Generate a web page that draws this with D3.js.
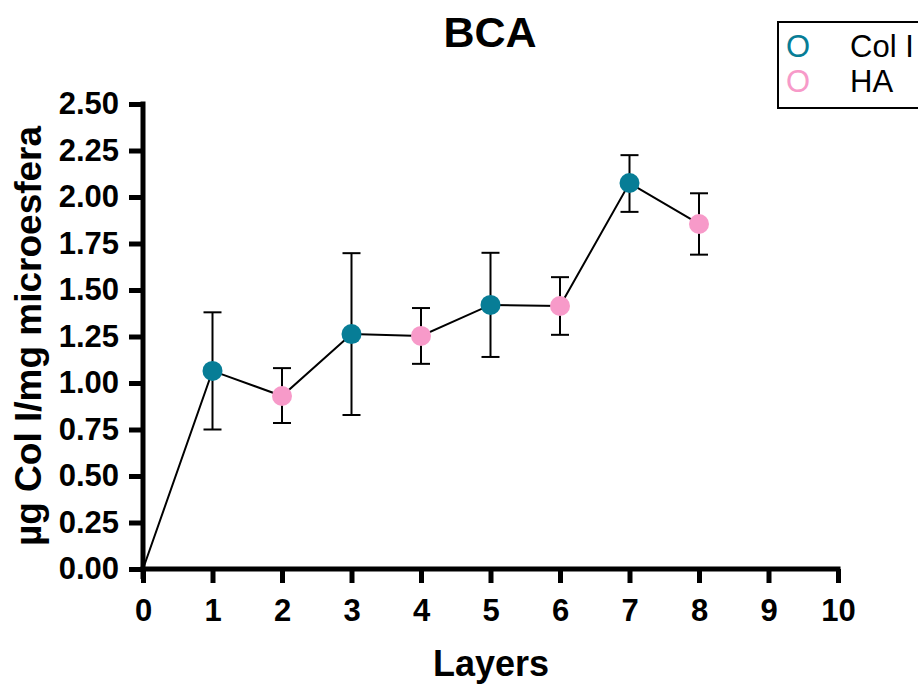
<!DOCTYPE html>
<html>
<head>
<meta charset="utf-8">
<script src="https://cdn.jsdelivr.net/npm/d3@7"></script>
<style>
  body { margin: 0; background: #fff; }
  text { font-family: "Liberation Sans", Arial, sans-serif; }
</style>
</head>
<body>
<div id="chart"></div>
<script>
// data
var layers = [1, 2, 3, 4, 5, 6, 7, 8];
var means  = [1.065, 0.93, 1.263, 1.253, 1.42, 1.414, 2.075, 1.855];
var errUp  = [0.315, 0.15, 0.435, 0.15, 0.28, 0.155, 0.15, 0.165];
var errLo  = [0.315, 0.145, 0.435, 0.15, 0.28, 0.155, 0.155, 0.165];
var groups = ["Col I", "HA", "Col I", "HA", "Col I", "HA", "Col I", "HA"];
var xTicks = [0, 1, 2, 3, 4, 5, 6, 7, 8, 9, 10];
var yTicks = [0, 0.25, 0.5, 0.75, 1.0, 1.25, 1.5, 1.75, 2.0, 2.25, 2.5];
var legendNames = ["Col I", "HA"];
var colors = {"Col I": "#077d96", "HA": "#f79ac9"};

var W = 918, H = 686;
var margin = {top: 104, right: 80, bottom: 117, left: 143},
    width = 838 - margin.left,
    height = H - margin.top - margin.bottom;

var svg = d3.select("#chart")
    .append("svg")
    .attr("width", W)
    .attr("height", H)
    .append("g")
    .attr("transform", "translate(" + margin.left + "," + margin.top + ")");

var x = d3.scaleLinear().domain([0, 10]).range([0, width]);
var y = d3.scaleLinear().domain([0, 2.5]).range([height, 0]);

// axes
var xAxis = d3.axisBottom(x).tickValues(xTicks).tickSize(14).tickPadding(16)
    .tickFormat(d3.format("d"));
var yAxis = d3.axisLeft(y).tickValues(yTicks).tickSize(14).tickPadding(10)
    .tickFormat(d3.format(".2f"));

var gx = svg.append("g")
    .attr("transform", "translate(0," + height + ")")
    .call(xAxis);
var gy = svg.append("g").call(yAxis);

[gx, gy].forEach(function(g) {
  g.select(".domain").attr("stroke", "#000").attr("stroke-width", 5);
  g.selectAll(".tick line").attr("stroke", "#000").attr("stroke-width", 5);
  g.selectAll(".tick text")
    .attr("fill", "#000")
    .style("font-size", "31px")
    .style("font-weight", "bold");
});
gx.select(".domain").attr("d", "M-2.5,0H" + (width + 2.5));
gy.select(".domain").attr("d", "M0," + (height + 10) + "V-2.5");

// line incl. origin
var pts = [{x: 0, y: 0}].concat(layers.map(function(l, i) { return {x: l, y: means[i]}; }));
svg.append("path")
    .datum(pts)
    .attr("fill", "none")
    .attr("stroke", "#000")
    .attr("stroke-width", 2)
    .attr("d", d3.line().x(function(d) { return x(d.x); }).y(function(d) { return y(d.y); }));

// error bars
var eb = svg.append("g").selectAll("g")
    .data(layers)
    .enter().append("g")
    .attr("stroke", "#000")
    .attr("stroke-width", 2);
eb.append("line")
    .attr("x1", function(d) { return x(d); })
    .attr("x2", function(d) { return x(d); })
    .attr("y1", function(d, i) { return y(means[i] + errUp[i]); })
    .attr("y2", function(d, i) { return y(means[i] - errLo[i]); });
eb.append("line")
    .attr("x1", function(d) { return x(d) - 9; })
    .attr("x2", function(d) { return x(d) + 9; })
    .attr("y1", function(d, i) { return y(means[i] + errUp[i]); })
    .attr("y2", function(d, i) { return y(means[i] + errUp[i]); });
eb.append("line")
    .attr("x1", function(d) { return x(d) - 9; })
    .attr("x2", function(d) { return x(d) + 9; })
    .attr("y1", function(d, i) { return y(means[i] - errLo[i]); })
    .attr("y2", function(d, i) { return y(means[i] - errLo[i]); });

// points
svg.append("g").selectAll("circle")
    .data(layers)
    .enter().append("circle")
    .attr("cx", function(d) { return x(d); })
    .attr("cy", function(d, i) { return y(means[i]); })
    .attr("r", 10)
    .attr("fill", function(d, i) { return colors[groups[i]]; });

// title and axis labels
svg.append("text")
    .attr("x", 490 - margin.left)
    .attr("y", 47 - margin.top)
    .attr("text-anchor", "middle")
    .style("font-size", "43px")
    .style("font-weight", "bold")
    .text("BCA");

svg.append("text")
    .attr("x", 491 - margin.left)
    .attr("y", 676 - margin.top)
    .attr("text-anchor", "middle")
    .style("font-size", "36px")
    .style("font-weight", "bold")
    .text("Layers");

svg.append("text")
    .attr("transform", "translate(" + (41 - margin.left) + "," + (336 - margin.top) + ") rotate(-90)")
    .attr("text-anchor", "middle")
    .style("font-size", "37px")
    .style("font-weight", "bold")
    .text("µg Col I/mg microesfera");

// legend
var lg = svg.append("g")
    .attr("transform", "translate(" + (778 - margin.left) + "," + (22 - margin.top) + ")");
lg.append("rect")
    .attr("width", 160).attr("height", 86)
    .attr("fill", "#fff").attr("stroke", "#000").attr("stroke-width", 2);
legendNames.forEach(function(n, i) {
  lg.append("text")
    .attr("x", 8).attr("y", 35 + i * 35)
    .attr("fill", colors[n])
    .style("font-size", "31px")
    .text("O");
  lg.append("text")
    .attr("x", 72).attr("y", 35 + i * 35)
    .attr("fill", "#000")
    .style("font-size", "31px")
    .text(n);
});
</script>
</body>
</html>
